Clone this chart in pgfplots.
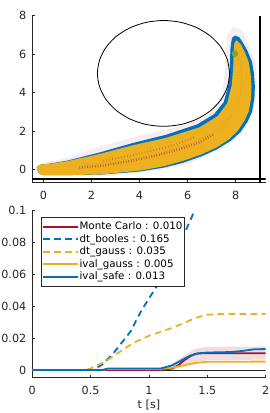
\documentclass[border=0pt]{standalone}
\usepackage{pgfplots}
\pgfplotsset{compat=1.18}
\usepackage{fontspec}
\setmainfont{DejaVu Sans}
\definecolor{mred}{rgb}{0.635,0.078,0.184}
\definecolor{mblue}{rgb}{0,0.447,0.741}
\definecolor{myel}{rgb}{0.929,0.694,0.125}
\definecolor{mgreen}{rgb}{0.466,0.674,0.188}
\definecolor{axgray}{rgb}{0.15,0.15,0.15}
\pgfplotsset{mystyle/.style={
  scale only axis, width=233.4pt, height=167pt,
  axis x line*=bottom, axis y line*=left,
  tick align=inside, major tick length=2.5pt,
  axis line style={axgray, line width=0.6pt},
  tick style={axgray, line width=0.6pt},
  ticklabel style={font=\fontsize{11.2}{13}\selectfont, text=axgray, inner sep=0pt},
  xticklabel style={anchor=center, yshift=-12.3pt},
  yticklabel style={anchor=east, xshift=-5.8pt},
  /pgf/number format/assume math mode=true,
}}
\begin{document}
\begin{tikzpicture}
% ---------------- top: trajectories ----------------
\begin{axis}[mystyle, at={(32.3pt,230.3pt)}, anchor=south west,
  xmin=-0.46, xmax=9.25, ymin=-0.68, ymax=8,
  xtick={0,2,4,6,8}, xticklabels={0,2,4,6,8},
  ytick={0,2,4,6,8}, yticklabels={0,2,4,6,8}]
% Monte Carlo traces (faint)
\addplot[fill=mred!45, fill opacity=0.18, draw=none] coordinates {
 (-0.3,0) (-0.15,-0.3) (0,-0.35) (2.4,-0.35) (4,-0.2) (6,0.3) (7.5,1.1) (8.3,1.9)
 (8.75,3) (8.9,4.3) (8.85,5.5) (8.55,6.5) (8.2,7.3) (7.9,7.4)
 (7.65,7.0) (7.6,6.2) (7.55,5.0) (7.45,4.0) (7.2,3.2) (6.6,2.65) (5.5,2.2)
 (4,1.75) (2.4,1.2) (1,0.6) (0,0.35) (-0.3,0.2)} -- cycle;
% ival_safe band
\addplot[fill=mblue, draw=none] coordinates {
 (-0.27,0.0) (-0.17,-0.22) (0,-0.28) (1.2,-0.28) (2.4,-0.26) (4.0,-0.1) (5.0,0.1)
 (5.8,0.35) (6.6,0.7) (7.2,1.04) (7.8,1.5) (8.2,1.95) (8.5,2.5) (8.68,3.0)
 (8.78,3.7) (8.8,4.33) (8.76,5.0) (8.68,5.6) (8.5,6.15) (8.3,6.6) (8.15,6.88)
 (7.97,6.97) (7.85,6.85) (7.8,6.5) (7.78,6.2) (7.76,5.37) (7.7,4.4) (7.5,3.5)
 (7.1,2.88) (6.4,2.35) (5.13,1.82) (3.74,1.39) (2.36,0.9) (1.0,0.47) (0.2,0.3)
 (-0.1,0.27) (-0.24,0.16)} -- cycle;
% ival_gauss band
\addplot[fill=myel, draw=none] coordinates {
 (-0.27,0.0) (-0.17,-0.22) (0,-0.28) (1.2,-0.28) (2.4,-0.25) (4.0,-0.05) (5.0,0.17)
 (5.8,0.45) (6.6,0.8) (7.2,1.15) (7.7,1.55) (8.08,2.0) (8.37,2.55) (8.55,3.05)
 (8.64,3.7) (8.66,4.33) (8.62,5.0) (8.54,5.6) (8.38,6.1) (8.22,6.5) (8.05,6.72)
 (7.95,6.6) (7.92,6.2) (7.9,5.37) (7.84,4.4) (7.65,3.45) (7.25,2.78) (6.5,2.2)
 (5.13,1.66) (3.74,1.27) (2.36,0.82) (1.0,0.44) (0.2,0.29) (-0.1,0.27) (-0.24,0.16)} -- cycle;
% texture of the ellipse outlines
\addplot[mblue, opacity=0.25, line width=0.5pt, dash pattern=on 0.8pt off 1.6pt] coordinates {
 (0.5,0.12) (2,0.27) (3.5,0.55) (5,0.95) (6.3,1.45) (7.3,2.1) (7.9,2.9) (8.2,3.9) (8.25,5.0) (8.15,6.0)};
\addplot[mred, opacity=0.55, line width=2.6pt, dash pattern=on 0.8pt off 1.8pt] coordinates {
 (1.5,0.1) (2.5,0.22) (3.5,0.42) (4.5,0.68) (5.5,1.0) (6.5,1.42) (7.1,1.85)};
\addplot[mred, opacity=0.35, line width=2pt, dash pattern=on 0.8pt off 2.2pt] coordinates {
 (2.5,0.45) (3.5,0.7) (4.5,0.98) (5.5,1.3) (6.3,1.7)};
% obstacle
\addplot[black, line width=0.8pt, smooth] coordinates {
 (7.75,5) (7.656,5.712) (7.382,6.375) (6.945,6.945) (6.375,7.382) (5.712,7.656)
 (5,7.75) (4.288,7.656) (3.625,7.382) (3.055,6.945) (2.618,6.375) (2.344,5.712)
 (2.25,5) (2.344,4.288) (2.618,3.625) (3.055,3.055) (3.625,2.618) (4.288,2.344)
 (5,2.25) (5.712,2.344) (6.375,2.618) (6.945,3.055) (7.382,3.625) (7.656,4.288) (7.75,5)};
% walls
\addplot[black, line width=2pt] coordinates {(-0.46,-0.5) (9.25,-0.5)};
\addplot[black, line width=2pt] coordinates {(9,-0.68) (9,8)};
% goal
\addplot[only marks, mark=*, mark size=3pt, mgreen, mark options={draw=mgreen, fill=mgreen}] coordinates {(7.97,6.03)};
\end{axis}
% ---------------- bottom: probability ----------------
\begin{axis}[mystyle, at={(32.3pt,35.3pt)}, anchor=south west,
  xmin=0, xmax=2, ymin=-0.0048, ymax=0.1,
  xtick={0,0.5,1,1.5,2}, xticklabels={0,0.5,1,1.5,2},
  ytick={0,0.02,0.04,0.06,0.08,0.1}, yticklabels={0,0.02,0.04,0.06,0.08,0.1},
  scaled y ticks=false,
  xlabel={t [s]},
  xlabel style={at={(axis description cs:0.5,0)}, anchor=center, yshift=-27.5pt,
    font=\fontsize{11.2}{13}\selectfont, text=axgray},
  legend image code/.code={\draw[#1] (0pt,0pt) -- (35pt,0pt);},
  legend cell align=left,
  legend style={at={(axis description cs:0.0373,0.9605)}, anchor=north west,
    draw=axgray, line width=0.6pt, inner xsep=1pt, inner ysep=3pt,
    font=\fontsize{10.3}{12}\selectfont, text=black,
    nodes={inner sep=0.5pt, text height=8pt, text depth=2.5pt, inner ysep=1pt},
    row sep=0pt, /tikz/every even column/.append style={column sep=0pt}},
  ]
\addplot[axgray, line width=0.6pt, forget plot] coordinates {(0,0) (2,0)};
\addplot[fill=mred, fill opacity=0.15, draw=none, forget plot] coordinates {
 (1.1,0) (1.2,0.004) (1.3,0.009) (1.4,0.0135) (1.5,0.0145) (1.7,0.0147) (2,0.0148)
 (2,0.0065) (1.7,0.0064) (1.5,0.0062) (1.4,0.005) (1.3,0.002) (1.2,0) (1.1,0)} -- cycle;
\addplot[mred, line width=1.8pt] coordinates {
 (0,0) (1.1,0) (1.2,0.001) (1.25,0.003) (1.3,0.006) (1.35,0.0085) (1.4,0.0102) (1.45,0.0105) (2,0.0105)};
\addlegendentry{Monte Carlo : 0.010}
\addplot[mblue, line width=1.8pt, dash pattern=on 6.5pt off 4.5pt] coordinates {
 (0,0) (0.52,0) (0.6,0.0035) (0.7,0.011) (0.84,0.024) (0.94,0.038) (1.07,0.053)
 (1.2,0.07) (1.3,0.085) (1.39,0.1) (1.45,0.11)};
\addlegendentry{dt\_booles : 0.165}
\addplot[myel, line width=1.8pt, dash pattern=on 6.5pt off 4.5pt] coordinates {
 (0,0) (0.45,0) (0.5,0.001) (0.6,0.0045) (0.67,0.0075) (0.77,0.0125) (0.87,0.0172)
 (1.0,0.0215) (1.1,0.024) (1.2,0.0265) (1.3,0.0295) (1.4,0.0328) (1.5,0.0347)
 (1.6,0.0352) (2,0.0352)};
\addlegendentry{dt\_gauss : 0.035}
\addplot[myel, line width=1.8pt] coordinates {
 (0,0) (0.6,0) (0.65,0.0007) (1.1,0.0007) (1.2,0.0015) (1.3,0.003) (1.4,0.0045)
 (1.5,0.0052) (2,0.0053)};
\addlegendentry{ival\_gauss : 0.005}
\addplot[mblue, line width=1.8pt] coordinates {
 (0,0) (0.6,0) (0.65,0.001) (1.1,0.001) (1.15,0.002) (1.2,0.003) (1.25,0.005)
 (1.3,0.007) (1.35,0.009) (1.42,0.0105) (1.5,0.011) (1.7,0.0113) (1.8,0.012)
 (1.85,0.0125) (1.9,0.013) (2,0.0132)};
\addlegendentry{ival\_safe : 0.013}
\end{axis}
\pgfresetboundingbox
\path[use as bounding box] (0pt,0pt) rectangle (269pt,413pt);
\end{tikzpicture}
\end{document}
